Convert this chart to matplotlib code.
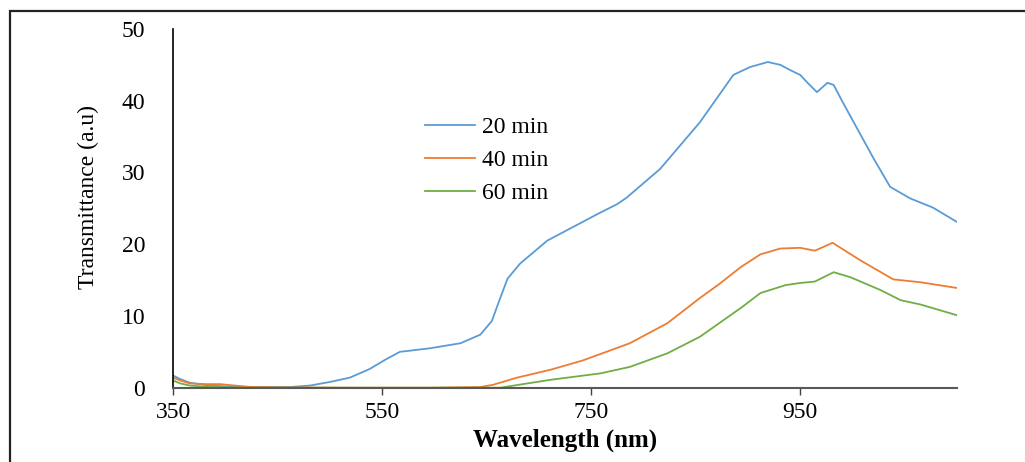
import matplotlib.pyplot as plt
from matplotlib.patches import Rectangle

# values
wl_20 = [350, 357, 366, 385, 405, 433, 462, 481, 500, 519, 538, 553, 567, 596, 625,
         644, 655, 663, 670, 682, 708, 730, 756, 775, 784, 816, 854, 886, 902, 919,
         931, 940, 950, 957, 966, 976, 982, 991, 1020, 1036, 1055, 1077, 1100]
t_20 = [1.7, 1.2, 0.7, 0.3, 0.15, 0.1, 0.1, 0.3, 0.8, 1.4, 2.6, 3.9, 5.0, 5.5, 6.2,
        7.4, 9.3, 12.5, 15.2, 17.3, 20.5, 22.2, 24.2, 25.6, 26.5, 30.5, 37.0, 43.6, 44.7, 45.4,
        45.0, 44.3, 43.6, 42.5, 41.2, 42.5, 42.2, 39.7, 32.0, 28.0, 26.4, 25.1, 23.1]

wl_40 = [350, 357, 366, 381, 395, 409, 424, 452, 519, 596, 644, 656, 679, 711, 742,
         787, 823, 854, 873, 893, 912, 931, 950, 964, 981, 1007, 1039, 1065, 1100]
t_40 = [1.4, 1.0, 0.6, 0.5, 0.5, 0.3, 0.1, 0.05, 0.0, 0.0, 0.1, 0.4, 1.4, 2.5, 3.8,
        6.2, 9.0, 12.5, 14.5, 16.8, 18.6, 19.4, 19.5, 19.1, 20.2, 17.8, 15.1, 14.7, 13.9]

wl_60 = [350, 357, 366, 385, 414, 663, 711, 759, 787, 823, 854, 893, 912, 936, 950,
         964, 982, 998, 1027, 1046, 1065, 1100]
t_60 = [1.0, 0.6, 0.3, 0.1, 0.0, 0.0, 1.1, 2.0, 2.9, 4.8, 7.1, 11.1, 13.2, 14.3, 14.6,
        14.8, 16.1, 15.4, 13.6, 12.2, 11.6, 10.1]

x_ticks = [350, 550, 750, 950]
y_ticks = [0, 10, 20, 30, 40, 50]

plt.rcParams['font.family'] = ['Liberation Serif', 'DejaVu Serif']

fig = plt.figure(figsize=(10.25, 4.62), dpi=100)
ax = fig.add_axes([0.1688, 0.1608, 0.7649, 0.7764])

ax.plot(wl_20, t_20, color='#5B9BD5', lw=1.3, label='20 min')
ax.plot(wl_40, t_40, color='#ED7D31', lw=1.3, label='40 min')
ax.plot(wl_60, t_60, color='#70AD47', lw=1.3, label='60 min')

ax.set_xlim(350, 1100)
ax.set_ylim(0, 50)
ax.set_xticks(x_ticks)
ax.set_yticks(y_ticks)
ax.tick_params(axis='x', length=5, width=1, color='#404040', labelsize=17, pad=5)
ax.tick_params(axis='y', length=0, labelsize=17, pad=20)

for side in ['top', 'right']:
    ax.spines[side].set_visible(False)
ax.spines['left'].set_color('black')
ax.spines['left'].set_linewidth(1.2)
ax.spines['bottom'].set_color('#595959')
ax.spines['bottom'].set_linewidth(1.5)

ax.set_xlabel('Wavelength (nm)', fontsize=18, fontweight='bold', labelpad=4)
ax.set_ylabel('Transmittance (a.u)', fontsize=17)
ax.yaxis.set_label_coords(-0.094, 0.533)

ax.legend(loc='upper left', bbox_to_anchor=(0.4146, 0.747), bbox_transform=fig.transFigure,
          frameon=False, fontsize=17, handlelength=2.1, handletextpad=0.3,
          labelspacing=0.48, borderpad=0, borderaxespad=0)

# outer frame (top and left edges only visible in the reference)
fig.patches.append(Rectangle((10 / 1025, -0.2), 1.2, 1.2 - 11 / 462,
                             transform=fig.transFigure, fill=False,
                             edgecolor='#222222', lw=1.6, clip_on=False))

fig.savefig('out.png', dpi=100)
